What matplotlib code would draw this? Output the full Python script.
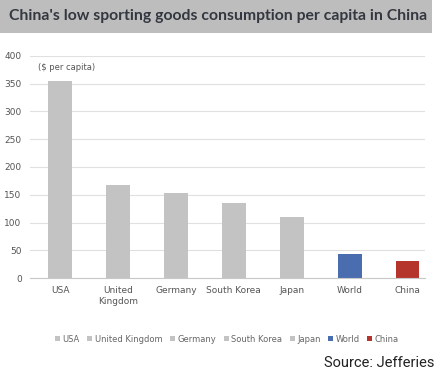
import matplotlib
matplotlib.use("Agg")
import matplotlib.pyplot as plt
from matplotlib.patches import Rectangle, Patch

countries = ["USA", "United Kingdom", "Germany", "South Korea", "Japan", "World", "China"]
tick_labels = ["USA", "United\nKingdom", "Germany", "South Korea", "Japan", "World", "China"]
spend = [355, 168, 153, 135, 110, 44, 30]
colors = ["#c3c3c3"] * 5 + ["#4a6db0", "#b5352c"]

fig = plt.figure(figsize=(4.41, 3.81), dpi=100)

# title band
fig.patches.append(Rectangle((0, 1 - 33 / 381), 432 / 441, 33 / 381, transform=fig.transFigure,
                             facecolor="#bdbdbd", edgecolor="none", zorder=0))
fig.text(0.02, 1 - 16 / 381, "China's low sporting goods consumption per capita in China",
         fontsize=11.3, fontweight="bold", color="#33373f", family="Lato", va="center")

ax = fig.add_axes([30 / 441, 1 - 278 / 381, 395 / 441, 222 / 381])
x = range(len(countries))
ax.bar(x, spend, width=0.41, color=colors, zorder=2)
ax.set_xlim(-0.52, 6.3)
ax.set_ylim(0, 400)
ax.set_yticks(range(0, 401, 50))
ax.set_xticks(list(x))
ax.set_xticklabels(tick_labels)
ax.grid(axis="y", color="#e0e0e0", linewidth=0.8, zorder=0)
for s in ["top", "right", "left"]:
    ax.spines[s].set_visible(False)
ax.spines["bottom"].set_color("#c8c8c8")
ax.tick_params(axis="y", length=0, labelsize=6.5, labelcolor="#555555", pad=6)
ax.tick_params(axis="x", length=0, labelsize=6.5, labelcolor="#555555", pad=6)
ax.text(0.02, 0.97, "($ per capita)", transform=ax.transAxes, fontsize=6,
        color="#555555", va="top")

handles = [Patch(facecolor=c, edgecolor="none") for c in colors]
fig.legend(handles, countries, loc="center", bbox_to_anchor=(0.515, 1 - 339 / 381), ncol=7,
           frameon=False, fontsize=6, labelcolor="#666666", handlelength=0.6, handleheight=0.6,
           handletextpad=0.3, columnspacing=0.9)

fig.text(0.985, 1 - 363 / 381, "Source: Jefferies", ha="right", va="center",
         fontsize=10.5, color="#222222", family="Roboto")

fig.savefig("out.png", dpi=100)
